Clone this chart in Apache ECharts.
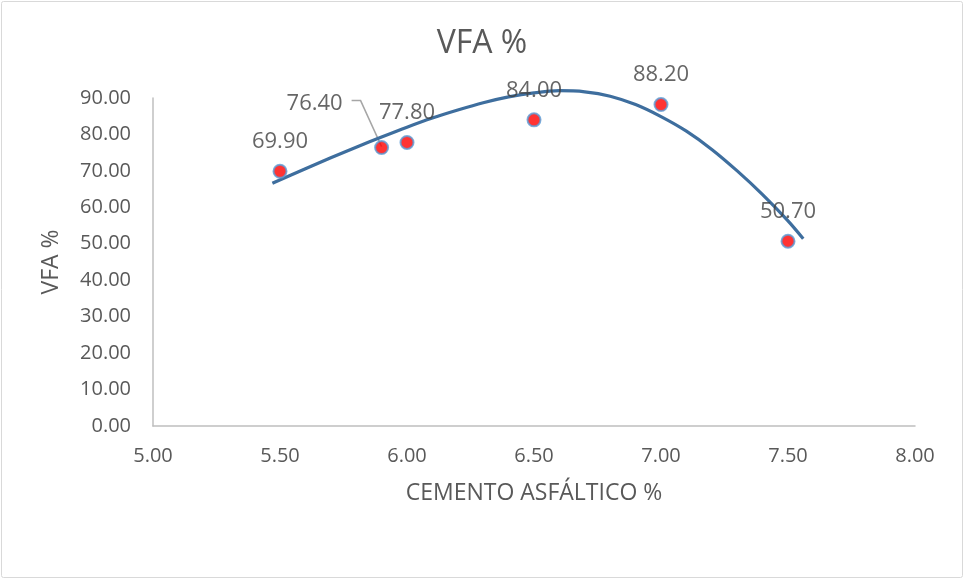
<!DOCTYPE html>
<html>
<head>
<meta charset="utf-8">
<title>VFA %</title>
<script src="https://cdn.jsdelivr.net/npm/echarts@6/dist/echarts.min.js"></script>
<style>
  html, body { margin: 0; padding: 0; background: #ffffff; }
  #chart { width: 964px; height: 579px; }
</style>
</head>
<body>
<div id="chart"></div>
<script>
// Measured points: asphalt cement content (%) vs VFA (%)
const cementPct = [5.5, 5.9, 6.0, 6.5, 7.0, 7.5];
const vfaPct = [69.9, 76.4, 77.8, 84.0, 88.2, 50.7];

// Fitted trend curve, sampled along its path
const trendX = [5.47, 5.6, 5.7, 5.8, 5.9, 6.0, 6.1, 6.2, 6.3, 6.4, 6.5, 6.6, 6.7, 6.8, 6.9, 7.0, 7.1, 7.2, 7.3, 7.4, 7.5, 7.56];
const trendY = [66.6, 70.6, 73.6, 76.5, 79.3, 82.0, 84.5, 86.7, 88.7, 90.3, 91.4, 92.0, 91.7, 90.5, 88.2, 84.9, 80.9, 75.9, 70.0, 63.5, 56.3, 51.4];

// Axis ranges
const xRange = { min: 5, max: 8, step: 0.5 };
const yRange = { min: 0, max: 90, step: 10 };

const textColor = '#595959';
const fontFamily = '"Open Sans", "Liberation Sans", sans-serif';
const leaderColor = '#a6a6a6';
const movedLabelIndex = 1;   // the 76.40 label sits off to the upper left
const movedLabelShift = { dx: -67, dy: -44 };

const chart = echarts.init(document.getElementById('chart'), null, { renderer: 'canvas' });

chart.setOption({
  backgroundColor: '#ffffff',
  animation: false,
  textStyle: { fontFamily: fontFamily },
  title: {
    text: 'VFA %',
    left: 'center',
    top: 23,
    textStyle: { color: textColor, fontSize: 32, fontWeight: 'normal', fontFamily: fontFamily }
  },
  grid: { left: 153, right: 49, top: 98, bottom: 153, containLabel: false },
  xAxis: {
    type: 'value',
    min: xRange.min,
    max: xRange.max,
    interval: xRange.step,
    name: 'CEMENTO ASFÁLTICO %',
    nameLocation: 'middle',
    nameGap: 56,
    nameTextStyle: { color: textColor, fontSize: 23, fontFamily: fontFamily },
    axisLine: { show: true, lineStyle: { color: '#bfbfbf', width: 1.5 } },
    axisTick: { show: false },
    splitLine: { show: false },
    axisLabel: {
      color: textColor, fontSize: 20, margin: 20,
      formatter: v => v.toFixed(2)
    }
  },
  yAxis: {
    type: 'value',
    min: yRange.min,
    max: yRange.max,
    interval: yRange.step,
    name: 'VFA %',
    nameLocation: 'middle',
    nameGap: 90,
    nameRotate: 90,
    nameTextStyle: { color: textColor, fontSize: 23, fontFamily: fontFamily },
    axisLine: { show: true, lineStyle: { color: '#bfbfbf', width: 1.5 } },
    axisTick: { show: false },
    splitLine: { show: false },
    axisLabel: {
      color: textColor, fontSize: 20, margin: 22,
      formatter: v => v.toFixed(2)
    }
  },
  series: [
    {
      name: 'Tendencia',
      type: 'line',
      smooth: 0.3,
      clip: false,
      showSymbol: false,
      symbol: 'none',
      data: trendX.map((x, i) => [x, trendY[i]]),
      lineStyle: { color: '#3e6e9e', width: 3.2 },
      z: 2,
      silent: true
    },
    {
      name: 'VFA %',
      type: 'scatter',
      symbol: 'circle',
      symbolSize: 13,
      clip: false,
      itemStyle: { color: '#ff0000', borderColor: '#5b9bd5', borderWidth: 2 },
      label: {
        show: true,
        position: 'top',
        distance: 11,
        color: '#404040',
        fontSize: 22,
        fontFamily: fontFamily,
        formatter: p => p.value[1].toFixed(2)
      },
      labelLayout: function (params) {
        if (params.dataIndex !== movedLabelIndex) return {};
        const cx = params.rect.x + params.rect.width / 2;
        const cy = params.rect.y + params.rect.height / 2;
        return {
          x: cx + movedLabelShift.dx,
          y: cy + movedLabelShift.dy,
          align: 'center',
          verticalAlign: 'middle'
        };
      },
      data: cementPct.map((x, i) => [x, vfaPct[i]]),
      z: 3
    }
  ]
});

// Chart frame and the bent leader line from the moved label back to its marker
function drawOverlay() {
  const p = chart.convertToPixel({ seriesIndex: 1 }, [cementPct[movedLabelIndex], vfaPct[movedLabelIndex]]);
  const ly = p[1] + movedLabelShift.dy - 3;
  chart.setOption({
    graphic: [
      {
        id: 'frame',
        type: 'rect',
        shape: { x: 1.5, y: 1.5, width: 961, height: 576, r: 2 },
        style: { fill: 'none', stroke: '#d9d9d9', lineWidth: 1 },
        silent: true,
        z: 0
      },
      {
        id: 'leader',
        type: 'polyline',
        shape: { points: [[p[0] - 30, ly], [p[0] - 21, ly], [p[0], p[1] - 1]] },
        style: { fill: 'none', stroke: leaderColor, lineWidth: 1.5 },
        silent: true,
        z: 2
      }
    ]
  });
}
drawOverlay();
</script>
</body>
</html>
